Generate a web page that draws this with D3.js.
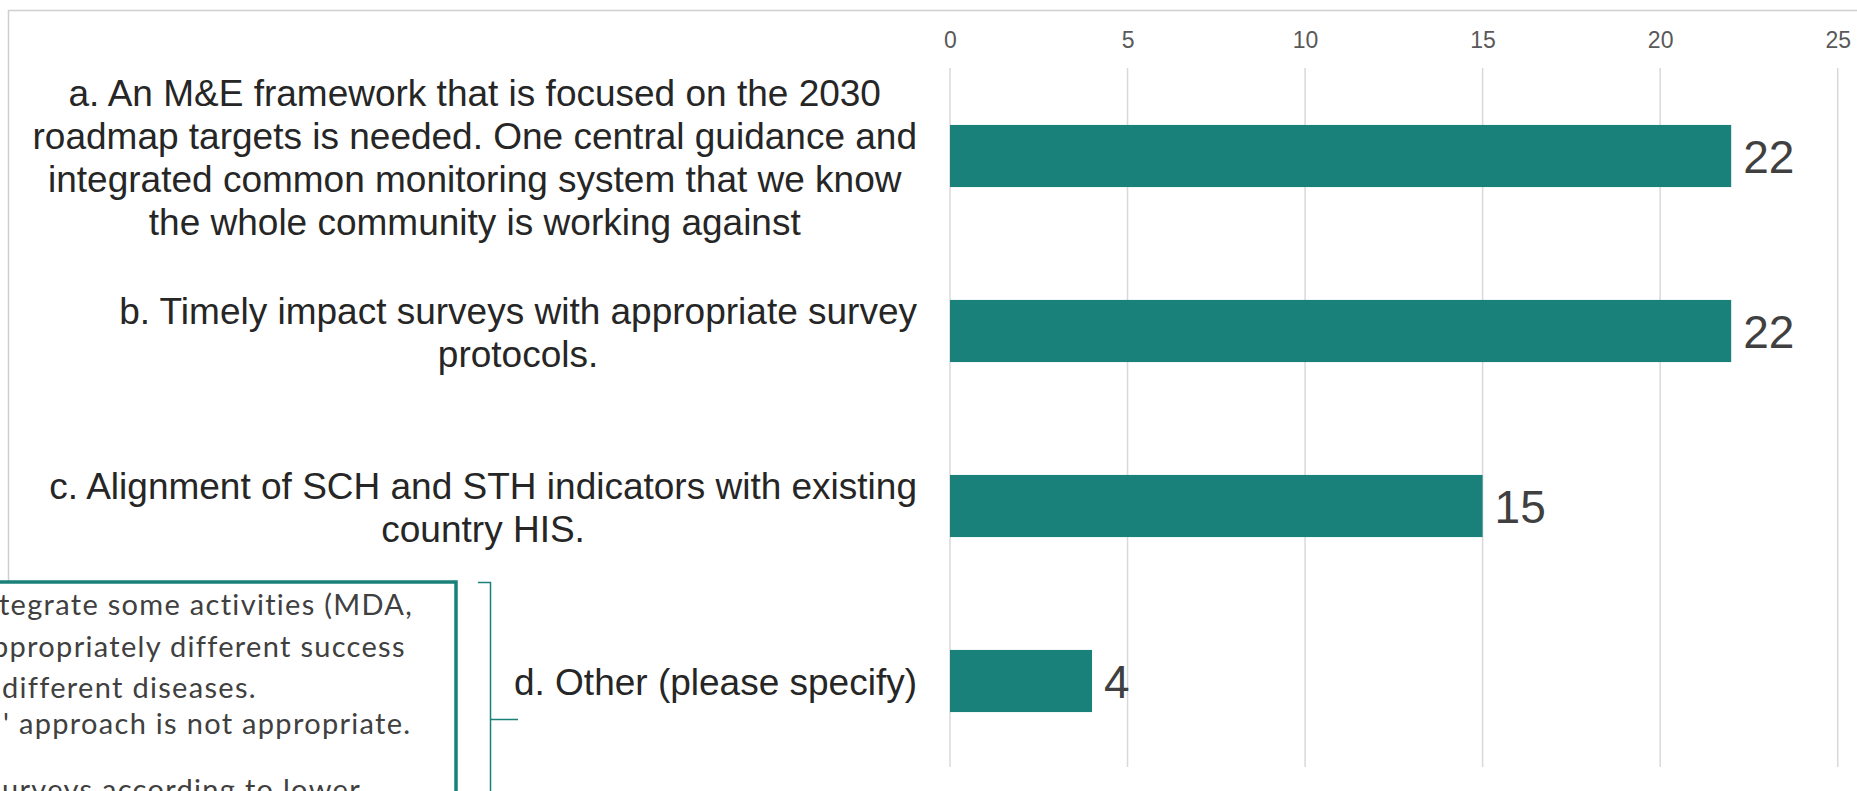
<!DOCTYPE html>
<html>
<head>
<meta charset="utf-8">
<script src="https://cdn.jsdelivr.net/npm/d3@7/dist/d3.min.js"></script>
<style>
  html, body { margin: 0; padding: 0; background: #fff; overflow: hidden; }
  svg { display: block; }
</style>
</head>
<body>
<svg id="chart" width="1857" height="791"></svg>
<script>
// Survey responses: what is needed for M&E
const categoryLines = [
  ["a. An M&E framework that is focused on the 2030",
   "roadmap targets is needed. One central guidance and",
   "integrated common monitoring system that we know",
   "the whole community is working against"],
  ["b. Timely impact surveys with appropriate survey",
   "protocols."],
  ["c. Alignment of SCH and STH indicators with existing",
   "country HIS."],
  ["d. Other (please specify)"]
];
const categories = categoryLines.map(l => l.join(" "));
const values = [22, 22, 15, 4];
const tickValues = [0, 5, 10, 15, 20, 25];

// Free-text answers listed for "Other"
const noteLines = [
  "tegrate some activities (MDA,",
  "ppropriately different success",
  "different diseases.",
  "' approach is not appropriate.",
  "urveys according to lower"
];

const W = 1857, H = 791;
const teal = "#1a807a";
const svg = d3.select("#chart");

// chart frame
svg.append("rect")
  .attr("x", 8.5).attr("y", 10.5)
  .attr("width", W + 20).attr("height", H + 20)
  .attr("fill", "none").attr("stroke", "#cfcfcf").attr("stroke-width", 1.5);

const x = d3.scaleLinear().domain([0, 25]).range([950, 1837.7]);
const y = d3.scaleBand().domain(categories).range([68.5, 768.5])
  .paddingInner(0.645).paddingOuter(0.3225);

// vertical gridlines
svg.append("g").selectAll("line").data(tickValues).join("line")
  .attr("x1", d => x(d)).attr("x2", d => x(d))
  .attr("y1", 68).attr("y2", 767)
  .attr("stroke", "#d9d9d9").attr("stroke-width", 1.5);

// top value axis
const axis = svg.append("g").attr("transform", "translate(0,48)")
  .call(d3.axisTop(x).tickValues(tickValues).tickSize(0).tickPadding(0).tickFormat(d3.format("d")));
axis.select(".domain").remove();
axis.selectAll("text")
  .attr("font-family", "'Liberation Sans', Arial, sans-serif")
  .attr("font-size", 23).attr("fill", "#595959");

// bars
svg.append("g").selectAll("rect").data(values).join("rect")
  .attr("x", x(0))
  .attr("y", (d, i) => y(categories[i]))
  .attr("width", d => x(d) - x(0))
  .attr("height", y.bandwidth())
  .attr("fill", teal);

// value labels
svg.append("g").selectAll("text").data(values).join("text")
  .attr("x", d => x(d) + 12)
  .attr("y", (d, i) => y(categories[i]) + y.bandwidth() / 2 + 17)
  .attr("font-family", "'Liberation Sans', Arial, sans-serif")
  .attr("font-size", 46).attr("fill", "#404040")
  .text(d => d);

// category labels: right-aligned blocks, lines centred within each block
const labelRight = 917, lineH = 43, labelSize = 37;
const labels = svg.append("g")
  .attr("font-family", "'Liberation Sans', Arial, sans-serif")
  .attr("font-size", labelSize).attr("fill", "#262626");
categoryLines.forEach((lines, i) => {
  const cy = y(categories[i]) + y.bandwidth() / 2;
  const g = labels.append("g");
  const texts = lines.map((ln, j) => g.append("text")
    .attr("text-anchor", "middle")
    .attr("y", cy - (lines.length - 1) * lineH / 2 + j * lineH + 14)
    .text(ln));
  const blockW = d3.max(texts, t => t.node().getComputedTextLength());
  texts.forEach(t => t.attr("x", labelRight - blockW / 2));
});

// note box with the "Other" answers
svg.append("rect")
  .attr("x", -20).attr("y", 582)
  .attr("width", 476).attr("height", 260)
  .attr("fill", "#fff").attr("stroke", teal).attr("stroke-width", 3.5);

const noteX = [-1, -8, 2, 3, 2];
const noteY = [615, 657, 698, 734, 800];
svg.append("g")
  .attr("font-family", "Lato, 'Open Sans', sans-serif")
  .attr("font-size", 29).attr("letter-spacing", 1.3).attr("fill", "#404040")
  .selectAll("text").data(noteLines).join("text")
  .attr("x", (d, i) => noteX[i]).attr("y", (d, i) => noteY[i])
  .text(d => d);

// bracket pointing to the "Other" category
svg.append("path")
  .attr("d", "M478,582.5H490.5V800M490.5,719.5H518")
  .attr("fill", "none").attr("stroke", teal).attr("stroke-width", 1.5);
</script>
</body>
</html>
